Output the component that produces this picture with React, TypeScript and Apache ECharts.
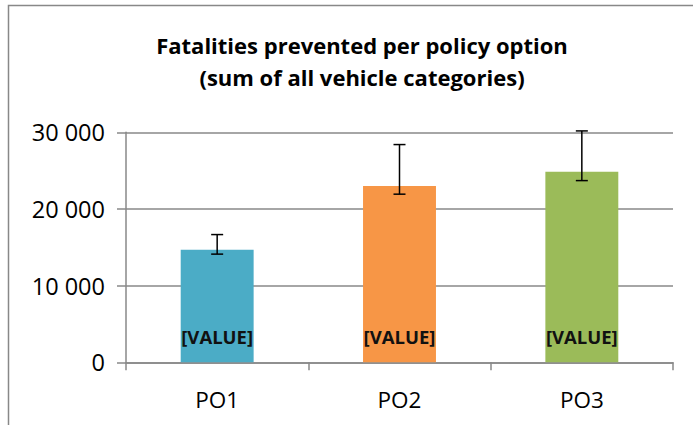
import React, { useEffect, useRef } from "react";
import * as echarts from "echarts";

const categories = ["PO1", "PO2", "PO3"];
const values = [14670, 23010, 24840];
const errLow = [14110, 21930, 23700];
const errHigh = [16660, 28400, 30180];
const colors = ["#4BACC6", "#F79646", "#9BBB59"];
const yTicks = [0, 10000, 20000, 30000];

const FONT = "'Open Sans', 'Noto Sans', sans-serif";

export default function App() {
  const ref = useRef<HTMLDivElement>(null);
  useEffect(() => {
    if (!ref.current) return;
    const chart = echarts.init(ref.current, undefined, { renderer: "svg" });
    chart.setOption({
      animation: false,
      backgroundColor: "#ffffff",
      title: {
        text: "Fatalities prevented per policy option\n(sum of all vehicle categories)",
        left: 357,
        top: 24,
        textAlign: "center",
        textStyle: {
          fontFamily: FONT,
          fontWeight: "bold",
          fontSize: 22,
          lineHeight: 32,
          color: "#000",
        },
      },
      graphic: [
        {
          type: "rect",
          shape: { x: 8.5, y: 5.5, width: 720, height: 440 },
          style: { fill: "none", stroke: "#888888", lineWidth: 1.5 },
          silent: true,
        },
      ],
      grid: { left: 126, right: 20, top: 132.3, bottom: 62.7 },
      xAxis: {
        type: "category",
        data: categories,
        axisLine: { lineStyle: { color: "#888888", width: 1.5 } },
        axisTick: { show: true, length: 8, lineStyle: { color: "#888888", width: 1.5 } },
        axisLabel: { fontFamily: FONT, fontSize: 22.5, color: "#000", margin: 26 },
      },
      yAxis: {
        type: "value",
        min: yTicks[0],
        max: yTicks[yTicks.length - 1],
        interval: 10000,
        axisLine: { show: true, lineStyle: { color: "#888888", width: 1.5 } },
        axisTick: { show: true, length: 9, lineStyle: { color: "#888888", width: 1.5 } },
        splitLine: { lineStyle: { color: "#888888", width: 1.5 } },
        axisLabel: {
          fontFamily: FONT,
          fontSize: 23.5,
          color: "#000",
          margin: 21,
          formatter: (v: number) =>
            v === 0 ? "0" : `${Math.floor(v / 1000)} ${String(v % 1000).padStart(3, "0")}`,
        },
      },
      series: [
        {
          type: "bar",
          barWidth: "40%",
          data: values.map((v, i) => ({ value: v, itemStyle: { color: colors[i] } })),
          label: {
            show: true,
            position: "insideBottom",
            distance: 16,
            formatter: "[VALUE]",
            fontFamily: FONT,
            fontWeight: "bold",
            fontSize: 18.5,
            color: "#111",
          },
        },
        {
          type: "custom",
          data: categories.map((_, i) => [i, errLow[i], errHigh[i]]),
          renderItem: (params: any, api: any) => {
            const x = api.value(0);
            const lo = api.coord([x, api.value(1)]);
            const hi = api.coord([x, api.value(2)]);
            const cap = 6;
            const style = { stroke: "#000", lineWidth: 1.5 };
            return {
              type: "group",
              children: [
                { type: "line", shape: { x1: lo[0], y1: lo[1], x2: hi[0], y2: hi[1] }, style },
                { type: "line", shape: { x1: lo[0] - cap, y1: lo[1], x2: lo[0] + cap, y2: lo[1] }, style },
                { type: "line", shape: { x1: hi[0] - cap, y1: hi[1], x2: hi[0] + cap, y2: hi[1] }, style },
              ],
            };
          },
          z: 10,
        },
      ],
    });
    return () => chart.dispose();
  }, []);
  return (
    <div
      ref={ref}
      style={{ position: "fixed", left: 0, top: 0, width: 693, height: 425 }}
    />
  );
}
